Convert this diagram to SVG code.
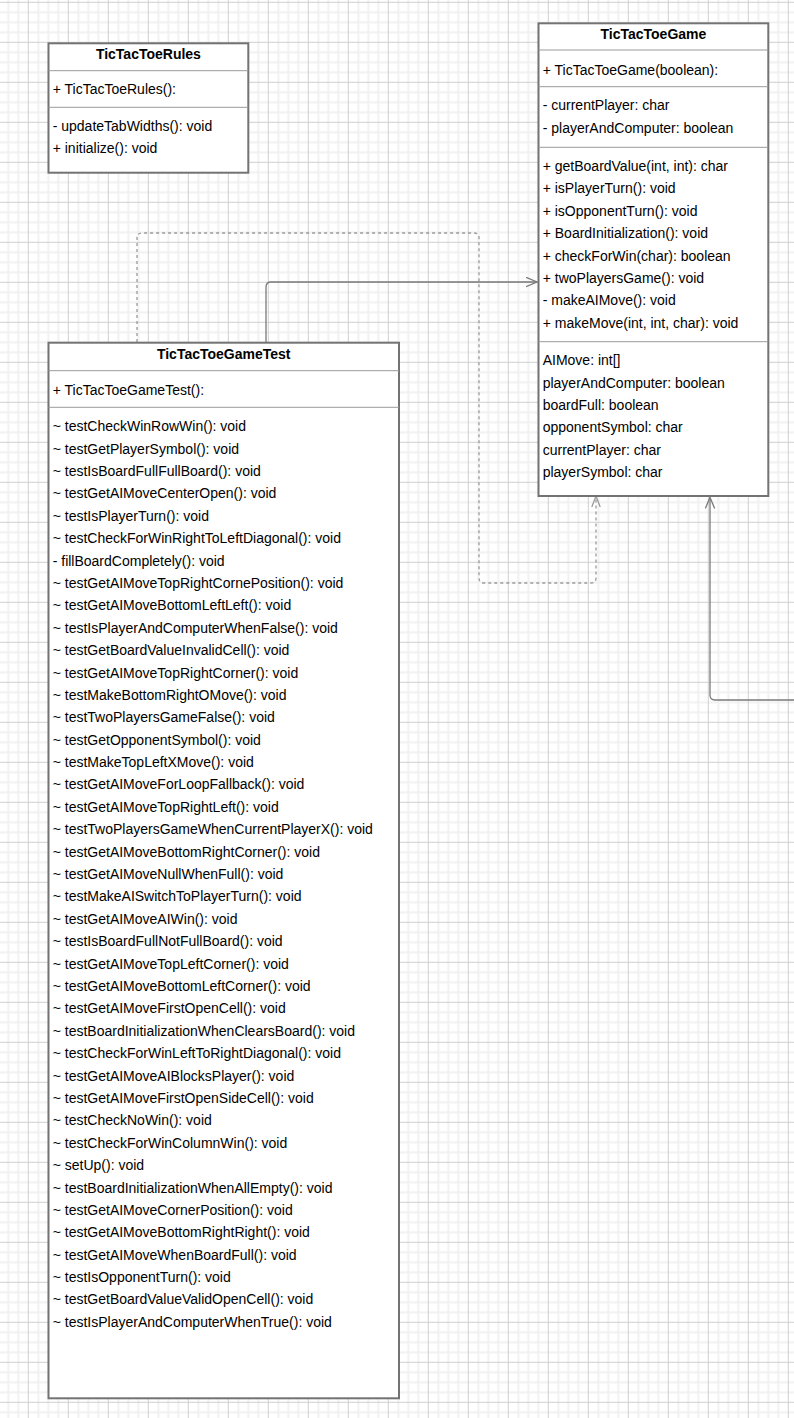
<svg xmlns="http://www.w3.org/2000/svg" width="794" height="1418" viewBox="0 0 794 1418">
<style>
.box{fill:#ffffff;stroke:#737373;stroke-width:2}
.sep{stroke:#9a9a9a;stroke-width:1}
.t{font-family:"Liberation Sans",Arial,Helvetica,sans-serif;font-size:14px;fill:#000}
.title{font-weight:bold;text-anchor:middle}
.conn{fill:none;stroke:#7a7a7a;stroke-width:1.3}
.dash{stroke:#9a9a9a;stroke-dasharray:3 3}
</style>
<defs>
<pattern id="grid" x="27.8" y="1.8" width="40" height="40" patternUnits="userSpaceOnUse">
<rect width="40" height="40" fill="#ffffff"/>
<path d="M10.5 0V40M20.5 0V40M30.5 0V40M0 10.5H40M0 20.5H40M0 30.5H40" stroke="#f1f1f1" stroke-width="2"/>
<path d="M0.5 0V40M0 0.5H40" stroke="#cfcfcf" stroke-width="1"/>
</pattern>
<marker id="open" markerUnits="userSpaceOnUse" markerWidth="14" markerHeight="12" refX="11" refY="5" orient="auto">
<path d="M0,0.3 L11,5 L0,9.7" fill="none" stroke="#7a7a7a" stroke-width="1.3"/>
</marker>
<marker id="openD" markerUnits="userSpaceOnUse" markerWidth="14" markerHeight="12" refX="11" refY="5" orient="auto">
<path d="M0,0.8 L11,5 L0,9.2" fill="none" stroke="#9a9a9a" stroke-width="1.3"/>
</marker>
</defs>
<rect width="794" height="1418" fill="url(#grid)"/>

<g id="connectors">
<path class="conn dash" d="M137,342 V238 Q137,233 142,233 H474 Q479,233 479,238 V578 Q479,583 484,583 H591 Q596,583 596,578 V496" marker-end="url(#openD)"/>
<path class="conn" d="M266,342 V287 Q266,282 271,282 H537" marker-end="url(#open)"/>
<path class="conn" d="M794,700 H715 Q710,700 710,695 V497.5" marker-end="url(#open)"/>
</g>

<g id="TicTacToeRules">
<rect class="box" x="48.5" y="43.3" width="199.8" height="129.4"/>
<text class="t title" x="148.4" y="58.5">TicTacToeRules</text>
<line class="sep" x1="48.5" y1="70.7" x2="248.3" y2="70.7"/>
<text class="t" x="52.7" y="94.2">+ TicTacToeRules():</text>
<line class="sep" x1="48.5" y1="107.3" x2="248.3" y2="107.3"/>
<text class="t" x="52.7" y="131.2">- updateTabWidths(): void</text>
<text class="t" x="52.7" y="153.2">+ initialize(): void</text>
</g>

<g id="TicTacToeGame">
<rect class="box" x="538.5" y="23.3" width="229.8" height="472.7"/>
<text class="t title" x="653.4" y="38.5">TicTacToeGame</text>
<line class="sep" x1="538.5" y1="50" x2="768.3" y2="50"/>
<text class="t" x="542.7" y="74.5">+ TicTacToeGame(boolean):</text>
<line class="sep" x1="538.5" y1="86.7" x2="768.3" y2="86.7"/>
<text class="t" x="542.7" y="110.4">- currentPlayer: char</text>
<text class="t" x="542.7" y="132.8">- playerAndComputer: boolean</text>
<line class="sep" x1="538.5" y1="147.3" x2="768.3" y2="147.3"/>
<text class="t" x="542.7" y="170.9">+ getBoardValue(int, int): char</text>
<text class="t" x="542.7" y="193.3">+ isPlayerTurn(): void</text>
<text class="t" x="542.7" y="215.7">+ isOpponentTurn(): void</text>
<text class="t" x="542.7" y="238.1">+ BoardInitialization(): void</text>
<text class="t" x="542.7" y="260.5">+ checkForWin(char): boolean</text>
<text class="t" x="542.7" y="282.9">+ twoPlayersGame(): void</text>
<text class="t" x="542.7" y="305.3">- makeAIMove(): void</text>
<text class="t" x="542.7" y="327.7">+ makeMove(int, int, char): void</text>
<line class="sep" x1="538.5" y1="341.7" x2="768.3" y2="341.7"/>
<text class="t" x="542.7" y="365.2">AIMove: int[]</text>
<text class="t" x="542.7" y="387.6">playerAndComputer: boolean</text>
<text class="t" x="542.7" y="409.9">boardFull: boolean</text>
<text class="t" x="542.7" y="432.3">opponentSymbol: char</text>
<text class="t" x="542.7" y="454.6">currentPlayer: char</text>
<text class="t" x="542.7" y="477">playerSymbol: char</text>
</g>

<g id="TicTacToeGameTest">
<rect class="box" x="48.5" y="342.7" width="350.5" height="1055.6"/>
<text class="t title" x="223.7" y="358.5">TicTacToeGameTest</text>
<line class="sep" x1="48.5" y1="370.7" x2="399" y2="370.7"/>
<text class="t" x="52.7" y="395.2">+ TicTacToeGameTest():</text>
<line class="sep" x1="48.5" y1="407.3" x2="399" y2="407.3"/>
<text class="t" x="52.7" y="431.2">~ testCheckWinRowWin(): void</text>
<text class="t" x="52.7" y="453.6">~ testGetPlayerSymbol(): void</text>
<text class="t" x="52.7" y="476">~ testIsBoardFullFullBoard(): void</text>
<text class="t" x="52.7" y="498.4">~ testGetAIMoveCenterOpen(): void</text>
<text class="t" x="52.7" y="520.8">~ testIsPlayerTurn(): void</text>
<text class="t" x="52.7" y="543.2">~ testCheckForWinRightToLeftDiagonal(): void</text>
<text class="t" x="52.7" y="565.5">- fillBoardCompletely(): void</text>
<text class="t" x="52.7" y="587.9">~ testGetAIMoveTopRightCornePosition(): void</text>
<text class="t" x="52.7" y="610.3">~ testGetAIMoveBottomLeftLeft(): void</text>
<text class="t" x="52.7" y="632.7">~ testIsPlayerAndComputerWhenFalse(): void</text>
<text class="t" x="52.7" y="655.1">~ testGetBoardValueInvalidCell(): void</text>
<text class="t" x="52.7" y="677.5">~ testGetAIMoveTopRightCorner(): void</text>
<text class="t" x="52.7" y="699.9">~ testMakeBottomRightOMove(): void</text>
<text class="t" x="52.7" y="722.3">~ testTwoPlayersGameFalse(): void</text>
<text class="t" x="52.7" y="744.7">~ testGetOpponentSymbol(): void</text>
<text class="t" x="52.7" y="767.1">~ testMakeTopLeftXMove(): void</text>
<text class="t" x="52.7" y="789.4">~ testGetAIMoveForLoopFallback(): void</text>
<text class="t" x="52.7" y="811.8">~ testGetAIMoveTopRightLeft(): void</text>
<text class="t" x="52.7" y="834.2">~ testTwoPlayersGameWhenCurrentPlayerX(): void</text>
<text class="t" x="52.7" y="856.6">~ testGetAIMoveBottomRightCorner(): void</text>
<text class="t" x="52.7" y="879">~ testGetAIMoveNullWhenFull(): void</text>
<text class="t" x="52.7" y="901.4">~ testMakeAISwitchToPlayerTurn(): void</text>
<text class="t" x="52.7" y="923.8">~ testGetAIMoveAIWin(): void</text>
<text class="t" x="52.7" y="946.2">~ testIsBoardFullNotFullBoard(): void</text>
<text class="t" x="52.7" y="968.6">~ testGetAIMoveTopLeftCorner(): void</text>
<text class="t" x="52.7" y="991">~ testGetAIMoveBottomLeftCorner(): void</text>
<text class="t" x="52.7" y="1013.3">~ testGetAIMoveFirstOpenCell(): void</text>
<text class="t" x="52.7" y="1035.7">~ testBoardInitializationWhenClearsBoard(): void</text>
<text class="t" x="52.7" y="1058.1">~ testCheckForWinLeftToRightDiagonal(): void</text>
<text class="t" x="52.7" y="1080.5">~ testGetAIMoveAIBlocksPlayer(): void</text>
<text class="t" x="52.7" y="1102.9">~ testGetAIMoveFirstOpenSideCell(): void</text>
<text class="t" x="52.7" y="1125.3">~ testCheckNoWin(): void</text>
<text class="t" x="52.7" y="1147.7">~ testCheckForWinColumnWin(): void</text>
<text class="t" x="52.7" y="1170.1">~ setUp(): void</text>
<text class="t" x="52.7" y="1192.5">~ testBoardInitializationWhenAllEmpty(): void</text>
<text class="t" x="52.7" y="1214.9">~ testGetAIMoveCornerPosition(): void</text>
<text class="t" x="52.7" y="1237.2">~ testGetAIMoveBottomRightRight(): void</text>
<text class="t" x="52.7" y="1259.6">~ testGetAIMoveWhenBoardFull(): void</text>
<text class="t" x="52.7" y="1282">~ testIsOpponentTurn(): void</text>
<text class="t" x="52.7" y="1304.4">~ testGetBoardValueValidOpenCell(): void</text>
<text class="t" x="52.7" y="1326.8">~ testIsPlayerAndComputerWhenTrue(): void</text>
</g>
</svg>
